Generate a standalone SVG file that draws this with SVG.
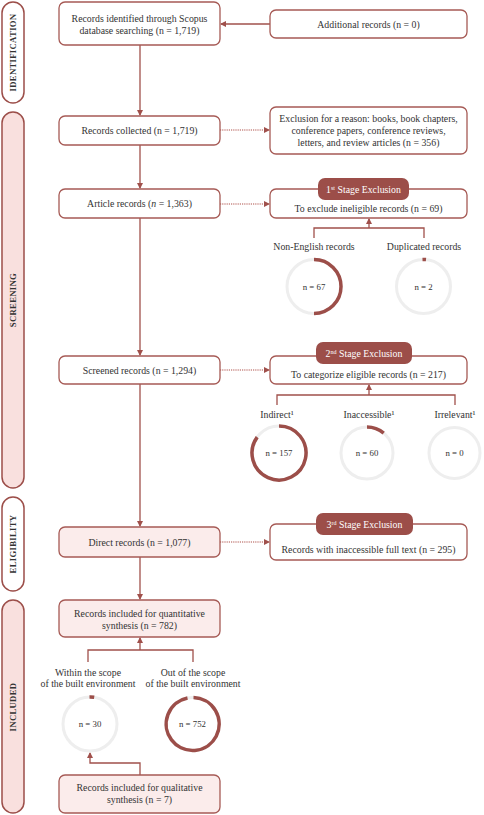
<svg xmlns="http://www.w3.org/2000/svg" width="484" height="815" viewBox="0 0 484 815">
<defs>
<marker id="ah" markerWidth="6" markerHeight="6" refX="5" refY="3" orient="auto" markerUnits="userSpaceOnUse">
<path d="M0,0 L6,3 L0,6 z" fill="#a0504b"/>
</marker>
</defs>
<style>
text{font-family:"Liberation Serif","DejaVu Serif",serif;font-size:9.8px;fill:#333;text-anchor:middle}
.box{fill:#fff;stroke:#a65a55;stroke-width:1.3}
.pink{fill:#fbeceb}
.side{fill:#fff;stroke:#9c4e49;stroke-width:1.5}
.sidepink{fill:#f9e0de}
.sl{font-weight:bold;font-size:8.7px;letter-spacing:0.3px;fill:#333}
.hdr{fill:#9c4e49;stroke:none}
.ht{fill:#fff;font-size:9.8px}
.c{stroke:#a0504b;stroke-width:1.3;fill:none}
.d{stroke:#c98a86;stroke-width:1.3;fill:none;stroke-dasharray:1.2 1}
.ring{fill:none;stroke:#eeeeee;stroke-width:3}
.arc{fill:none;stroke:#9c4e49;stroke-width:3.5}
.n{font-size:8.8px}
</style>

<g id="side-identification">
<rect class="side" x="2" y="2" width="22" height="101" rx="11"/>
<text class="sl" transform="translate(16,52.5) rotate(-90)">IDENTIFICATION</text>
</g>
<g id="side-screening">
<rect class="side sidepink" x="2" y="112" width="22" height="376" rx="11"/>
<text class="sl" transform="translate(16,300) rotate(-90)">SCREENING</text>
</g>
<g id="side-eligibility">
<rect class="side" x="2" y="497" width="22" height="94" rx="11"/>
<text class="sl" transform="translate(16,544) rotate(-90)">ELIGIBILITY</text>
</g>
<g id="side-included">
<rect class="side sidepink" x="2" y="600" width="22" height="213" rx="11"/>
<text class="sl" transform="translate(16,707) rotate(-90)">INCLUDED</text>
</g>

<g id="connectors">
<line class="c" x1="270" y1="24" x2="221" y2="24" marker-end="url(#ah)"/>
<line class="c" x1="140" y1="45" x2="140" y2="115" marker-end="url(#ah)"/>
<line class="d" x1="220" y1="130" x2="269" y2="130" marker-end="url(#ah)"/>
<line class="c" x1="140" y1="145" x2="140" y2="188" marker-end="url(#ah)"/>
<line class="d" x1="220" y1="204" x2="269" y2="204" marker-end="url(#ah)"/>
<line class="c" x1="140" y1="218" x2="140" y2="355" marker-end="url(#ah)"/>
<line class="d" x1="220" y1="370" x2="269" y2="370" marker-end="url(#ah)"/>
<line class="c" x1="140" y1="384" x2="140" y2="526" marker-end="url(#ah)"/>
<line class="d" x1="220" y1="542" x2="269" y2="542" marker-end="url(#ah)"/>
<line class="c" x1="140" y1="557" x2="140" y2="599" marker-end="url(#ah)"/>
<path class="c" d="M314 238 V228 H424 V238"/>
<line class="c" x1="369" y1="228" x2="369" y2="219" marker-end="url(#ah)"/>
<path class="c" d="M277 405 V395 H455 V405"/>
<line class="c" x1="369" y1="395" x2="369" y2="385" marker-end="url(#ah)"/>
<path class="c" d="M88 662 V650 H193 V662"/>
<line class="c" x1="140" y1="650" x2="140" y2="638" marker-end="url(#ah)"/>
<path class="c" d="M140 775 V763 H90 V753" marker-end="url(#ah)"/>
</g>

<g id="n-identified">
<rect class="box" x="59" y="2" width="161" height="43" rx="6"/>
<text x="139.5" y="22">Records identified through Scopus</text>
<text x="139.5" y="33.5">database searching (n = 1,719)</text>
</g>
<g id="n-additional">
<rect class="box" x="270" y="10" width="197" height="28" rx="6"/>
<text x="368.5" y="27.5">Additional records (n = 0)</text>
</g>
<g id="n-collected">
<rect class="box" x="59" y="116" width="161" height="29" rx="6"/>
<text x="139.5" y="133.5">Records collected (n = 1,719)</text>
</g>
<g id="n-exclusion-reason">
<rect class="box" x="270" y="107" width="197" height="47" rx="6"/>
<text x="368.5" y="121.5">Exclusion for a reason: books, book chapters,</text>
<text x="368.5" y="133.5">conference papers, conference reviews,</text>
<text x="368.5" y="145.5">letters, and review articles (n = 356)</text>
</g>
<g id="n-article">
<rect class="box" x="59" y="189" width="161" height="29" rx="6"/>
<text x="139.5" y="207">Article records (<tspan font-style="italic">n</tspan> = 1,363)</text>
</g>
<g id="n-stage1">
<rect class="box" x="270" y="189" width="197" height="29" rx="6"/>
<rect class="hdr" x="318" y="178" width="91" height="22" rx="7"/>
<text class="ht" x="363.5" y="192.5">1<tspan font-size="6" dy="-3">st</tspan><tspan dy="3"> Stage Exclusion</tspan></text>
<text x="368.5" y="211.5">To exclude ineligible records (n = 69)</text>
</g>
<g id="n-nonenglish">
<text x="314" y="250">Non-English records</text>
<circle class="ring" cx="314" cy="286.5" r="27"/>
<path class="arc" d="M314 259.5 A27 27 0 0 1 314 313.5"/>
<text class="n" x="314" y="289.5">n = 67</text>
</g>
<g id="n-duplicated">
<text x="424" y="250">Duplicated records</text>
<circle class="ring" cx="423.5" cy="286.5" r="27"/>
<path class="arc" d="M422.5 259.5 A27 27 0 0 1 426 259.6"/>
<text class="n" x="423.5" y="289.5">n = 2</text>
</g>
<g id="n-screened">
<rect class="box" x="59" y="356" width="161" height="28" rx="6"/>
<text x="139.5" y="373.5">Screened records (n = 1,294)</text>
</g>
<g id="n-stage2">
<rect class="box" x="270" y="356" width="197" height="28" rx="6"/>
<rect class="hdr" x="316" y="342" width="96" height="22" rx="7"/>
<text class="ht" x="364" y="356.5">2<tspan font-size="6" dy="-3">nd</tspan><tspan dy="3"> Stage Exclusion</tspan></text>
<text x="368.5" y="377.5">To categorize eligible records (n = 217)</text>
</g>
<g id="n-indirect">
<text x="277" y="418">Indirect¹</text>
<circle class="ring" cx="279" cy="453" r="27"/>
<path class="arc" d="M279 426 A27 27 0 1 1 257.2 437.1"/>
<text class="n" x="279" y="456">n = 157</text>
</g>
<g id="n-inaccessible">
<text x="369" y="418">Inaccessible¹</text>
<circle class="ring" cx="367" cy="453" r="26"/>
<path class="arc" d="M367 427 A26 26 0 0 1 383.7 433.1"/>
<text class="n" x="367" y="456">n = 60</text>
</g>
<g id="n-irrelevant">
<text x="455" y="418">Irrelevant¹</text>
<circle class="ring" cx="454.5" cy="453" r="25.5"/>
<text class="n" x="454.5" y="456">n = 0</text>
</g>
<g id="n-direct">
<rect class="box pink" x="59" y="527" width="161" height="30" rx="6"/>
<text x="139.5" y="545.5">Direct records (n = 1,077)</text>
</g>
<g id="n-stage3">
<rect class="box" x="270" y="524" width="197" height="36" rx="6"/>
<rect class="hdr" x="316" y="513" width="97" height="22" rx="7"/>
<text class="ht" x="364.5" y="527.5">3<tspan font-size="6" dy="-3">rd</tspan><tspan dy="3"> Stage Exclusion</tspan></text>
<text x="368.5" y="552.5">Records with inaccessible full text (n = 295)</text>
</g>
<g id="n-quantitative">
<rect class="box pink" x="59" y="600" width="161" height="37" rx="6"/>
<text x="139.5" y="617">Records included for quantitative</text>
<text x="139.5" y="629">synthesis (n = 782)</text>
</g>
<g id="n-within">
<text x="88" y="676">Within the scope</text>
<text x="88" y="687">of the built environment</text>
<circle class="ring" cx="90" cy="724" r="27"/>
<path class="arc" d="M89.5 697 A27 27 0 0 1 94.2 697.3"/>
<text class="n" x="90" y="727">n = 30</text>
</g>
<g id="n-outside">
<text x="193" y="676">Out of the scope</text>
<text x="193" y="687">of the built environment</text>
<circle class="ring" cx="192.5" cy="724" r="26.5"/>
<path class="arc" d="M193.5 697.5 A26.5 26.5 0 1 1 187.5 698"/>
<text class="n" x="192.5" y="727">n = 752</text>
</g>
<g id="n-qualitative">
<rect class="box pink" x="59" y="775" width="161" height="38" rx="6"/>
<text x="139.5" y="791">Records included for qualitative</text>
<text x="139.5" y="803">synthesis (n = 7)</text>
</g>
</svg>
